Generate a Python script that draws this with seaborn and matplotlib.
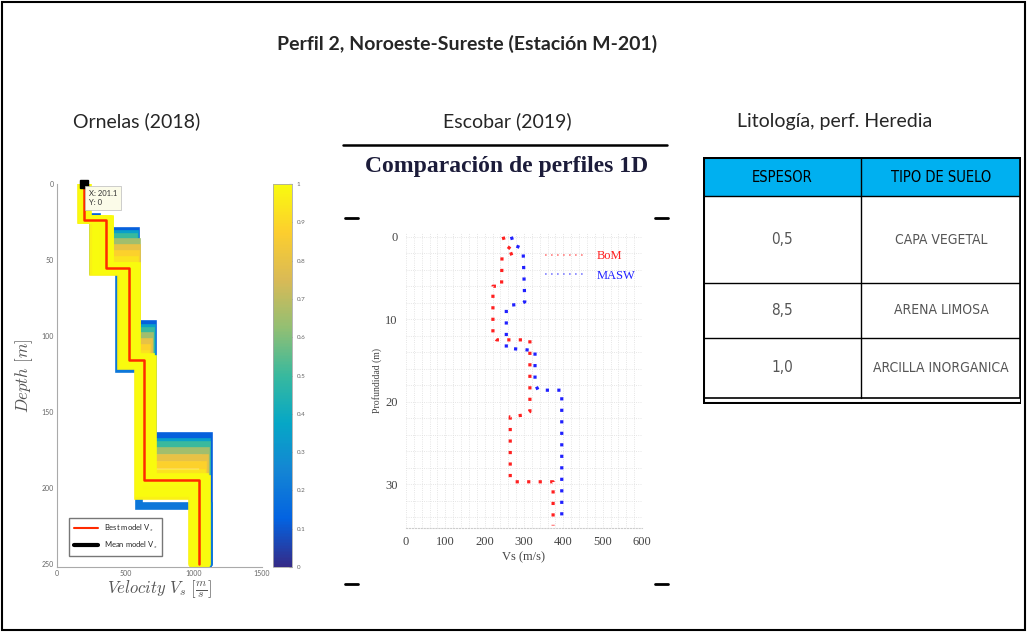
import numpy as np
import seaborn as sns
import matplotlib.pyplot as plt
from matplotlib.colors import LinearSegmentedColormap, Normalize
from matplotlib.lines import Line2D
from matplotlib.patches import Rectangle
from matplotlib import font_manager as fm
import matplotlib as mpl

# ---------------- data ----------------
# Ornelas (2018): layered Vs models (5 layers, 4 interfaces), colour = normalized fit
best_v = [195, 361, 524, 634, 1037]
best_b = [24, 55, 116, 195]
mean_v = [201, 361, 524, 634, 1037]
mean_b = [24, 55, 116, 195]
ens_fit = [0.12, 0.2, 0.35, 0.5, 0.65, 0.8, 0.88, 0.93, 0.97, 0.98, 0.99, 0.99, 1.0, 1.0, 1.0, 1.0]
ens_v = [
    [215, 295, 575, 700, 1115],
    [205, 262, 455, 600, 1110],
    [200, 285, 570, 695, 1100],
    [195, 300, 560, 690, 1095],
    [190, 320, 585, 680, 1090],
    [185, 340, 585, 670, 1080],
    [180, 360, 580, 660, 1070],
    [210, 380, 570, 650, 1060],
    [175, 265, 470, 595, 985],
    [185, 300, 495, 610, 1005],
    [205, 330, 510, 625, 1020],
    [215, 390, 550, 660, 1060],
    [225, 385, 585, 705, 1095],
    [200, 350, 540, 645, 1050],
    [180, 285, 480, 600, 995],
    [220, 370, 565, 690, 1080],
]
ens_b = [
    [22, 31, 92, 166],
    [23, 57, 122, 212],
    [23, 33, 95, 170],
    [24, 35, 97, 172],
    [24, 38, 100, 176],
    [24, 42, 104, 180],
    [24, 46, 108, 185],
    [24, 50, 112, 190],
    [24, 58, 120, 205],
    [24, 57, 118, 200],
    [24, 56, 117, 198],
    [24, 55, 116, 196],
    [23, 54, 115, 194],
    [24, 55, 116, 196],
    [24, 57, 119, 203],
    [23, 54, 114, 193],
]
max_depth = 250

# Escobar (2019): profile vertices (velocity m/s, depth m)
bom_vs = [247, 253, 277, 244, 243, 221, 221, 230, 315, 315, 302, 265, 265, 272, 374, 374]
bom_z = [0, 1.0, 1.9, 2.5, 6.0, 6.0, 12.1, 12.5, 12.5, 21.2, 21.6, 21.8, 29.3, 29.7, 29.7, 35.0]
masw_vs = [268, 274, 289, 298, 302, 289, 264, 255, 255, 328, 328, 336, 396, 396]
masw_z = [0, 1.0, 1.3, 2.0, 7.9, 8.2, 8.3, 8.8, 13.5, 13.8, 17.8, 18.6, 18.6, 34.7]

# Heredia lithology table
tab_header = ["ESPESOR", "TIPO DE SUELO"]
tab_thick = ["0,5", "8,5", "1,0"]
tab_soil = ["CAPA VEGETAL", "ARENA LIMOSA", "ARCILLA INORGANICA"]


def stairs(v, b, bottom):
    z = [0]
    vv = [v[0]]
    for i, d in enumerate(b):
        z += [d, d]
        vv += [v[i], v[i + 1]]
    z.append(bottom)
    vv.append(v[-1])
    return np.array(vv), np.array(z)


parula = LinearSegmentedColormap.from_list(
    "parula", ["#352a87", "#0363e1", "#1485d4", "#06a7c6", "#38b99e",
               "#92bf73", "#d9ba56", "#fcce2e", "#f9fb0e"])

sns.set_style("white")
plt.rcParams['font.family'] = ['Lato', 'DejaVu Sans']
plt.rcParams['mathtext.fontset'] = 'cm'

# condensed font for the table, if one is installed
cond = [f for f in fm.fontManager.ttflist
        if ('Narrow' in f.name or 'Condensed' in f.name or f.stretch in ('condensed', 'semi-condensed'))
        and f.style == 'normal' and f.weight in (400, 'normal', 'regular')]
if cond:
    tab_font = fm.FontProperties(fname=cond[0].fname)
    scale = 1.0
else:
    tab_font = fm.FontProperties(family='Liberation Sans')
    scale = 0.85

W, H = 1027, 632
fig = plt.figure(figsize=(W / 100, H / 100), dpi=100)


def box(x0, y0, x1, y1):
    return [x0 / W, 1 - y1 / H, (x1 - x0) / W, (y1 - y0) / H]


# frame and titles
fig.add_artist(Rectangle((0.002, 0.003), 0.996, 0.994, transform=fig.transFigure,
                         fill=False, lw=1.5, ec='black'))
fig.text(467 / W, 1 - 44 / H, "Perfil 2, Noroeste-Sureste (Estación M-201)",
         ha='center', va='center', fontsize=14, fontweight='bold')
fig.text(137 / W, 1 - 121 / H, "Ornelas (2018)", ha='center', va='center', fontsize=14)
fig.text(507 / W, 1 - 121 / H, "Escobar (2019)", ha='center', va='center', fontsize=14)
fig.text(835 / W, 1 - 121 / H, "Litología, perf. Heredia", ha='center', va='center', fontsize=14)

# ---------------- left panel ----------------
ax1 = fig.add_axes(box(57, 184, 262, 567))
norm = Normalize(0, 1)
order = np.argsort(ens_fit, kind='stable')
mv, mz = stairs(mean_v, mean_b, max_depth)
ax1.plot(mv, mz, color='black', lw=3)
for i in order:
    vv, zz = stairs(ens_v[i], ens_b[i], max_depth)
    sns.lineplot(x=vv, y=zz, sort=False, estimator=None, ax=ax1,
                 color=parula(norm(ens_fit[i])), lw=5.5, solid_joinstyle='miter')
bv, bz = stairs(best_v, best_b, max_depth)
sns.lineplot(x=bv, y=bz, sort=False, estimator=None, ax=ax1, color='#ff2a00', lw=1.8)
ax1.plot([201.1], [0], 's', color='black', ms=6, clip_on=False, zorder=5)
ax1.text(235, 4, "X: 201.1\nY: 0", fontsize=5.5, va='top', ha='left', color='#333333',
         linespacing=1.4,
         bbox=dict(boxstyle='square,pad=0.5', fc='#fbfbe8', ec='#bbbbbb', lw=0.5), zorder=6)
ax1.set_xlim(0, 1500)
ax1.set_ylim(252, 0)
ax1.set_xticks([0, 500, 1000, 1500])
ax1.set_yticks([0, 50, 100, 150, 200, 250])
for s in ['top', 'right']:
    ax1.spines[s].set_visible(False)
for s in ['left', 'bottom']:
    ax1.spines[s].set_color('#aaaaaa')
    ax1.spines[s].set_linewidth(0.8)
ax1.tick_params(labelsize=5, colors='#666666', length=2, direction='in', pad=2)
ax1.set_xlabel(r'$Velocity\ V_s\ [\frac{m}{s}]$', fontsize=12, color='#555555', labelpad=1)
ax1.set_ylabel(r'$Depth\ [m]$', fontsize=12, color='#555555', labelpad=5)
ax1.legend(handles=[Line2D([], [], color='#ff2a00', lw=1.5, label=r'Best model V$_s$'),
                    Line2D([], [], color='black', lw=3, label=r'Mean model V$_s$')],
           loc='lower left', fontsize=5.5, frameon=True, edgecolor='#555555',
           fancybox=False, handlelength=3.2, borderpad=0.6, labelspacing=0.8,
           bbox_to_anchor=(0.04, 0.02))

cax = fig.add_axes(box(273, 184, 292, 567))
cb = fig.colorbar(mpl.cm.ScalarMappable(norm=norm, cmap=parula), cax=cax)
cb.set_ticks(np.round(np.arange(0, 1.01, 0.1), 1))
cb.set_ticklabels(["0", "0.1", "0.2", "0.3", "0.4", "0.5", "0.6", "0.7", "0.8", "0.9", "1"])
cb.ax.tick_params(labelsize=4.5, colors='#666666', length=2, direction='in')
cb.outline.set_edgecolor('#aaaaaa')
cb.outline.set_linewidth(0.6)

# ---------------- middle panel ----------------
fig.add_artist(Line2D([343 / W, 667 / W], [1 - 145 / H] * 2, color='black', lw=1.8))
for yy in (218, 584):
    for x0 in (345, 655):
        fig.add_artist(Line2D([x0 / W, (x0 + 13) / W], [1 - yy / H] * 2, color='black', lw=2))
fig.text(507 / W, 1 - 166 / H, "Comparación de perfiles 1D", ha='center', va='center',
         fontsize=17, family='Liberation Serif', fontweight='bold', color='#1c1c3a')

ax2 = fig.add_axes(box(406, 233, 642, 528))
dot = (0, (1, 2.6))
sns.lineplot(x=bom_vs, y=bom_z, sort=False, estimator=None, ax=ax2, color='#ff2020',
             lw=2.3, linestyle=dot)
sns.lineplot(x=masw_vs, y=masw_z, sort=False, estimator=None, ax=ax2, color='#2020ff',
             lw=2.3, linestyle=dot)
ax2.set_xlim(0, 600)
ax2.set_ylim(35.3, -0.45)
ax2.set_xticks(range(0, 601, 100))
ax2.set_yticks([0, 10, 20, 30])
ax2.xaxis.set_minor_locator(mpl.ticker.MultipleLocator(20))
ax2.yaxis.set_minor_locator(mpl.ticker.MultipleLocator(2))
ax2.grid(which='both', ls=':', color='#dddddd', lw=0.6)
for s in ['top', 'right', 'left']:
    ax2.spines[s].set_visible(False)
ax2.spines['bottom'].set_linestyle(':')
ax2.spines['bottom'].set_color('#cccccc')
ax2.tick_params(which='both', length=0, labelsize=9, colors='#444444', pad=6)
for t in ax2.get_xticklabels() + ax2.get_yticklabels():
    t.set_family('Liberation Serif')
ax2.set_xlabel("Vs (m/s)", fontsize=9, family='Liberation Serif', color='#444444', labelpad=2)
ax2.set_ylabel("Profundidad (m)", fontsize=7, family='Liberation Serif', color='#444444',
               labelpad=2)
leg = ax2.legend(handles=[Line2D([], [], color='#ff8080', lw=1.2, linestyle=dot, label='BoM'),
                          Line2D([], [], color='#8080ff', lw=1.2, linestyle=dot, label='MASW')],
                 loc='upper right', frameon=False, prop={'family': 'Liberation Serif', 'size': 9},
                 handlelength=3.3, labelspacing=0.6, bbox_to_anchor=(1.02, 0.98))
leg.get_texts()[0].set_color('#ff2020')
leg.get_texts()[1].set_color('#2020ff')

# ---------------- table ----------------
ax3 = fig.add_axes(box(703, 157, 1021, 404))
ax3.set_xlim(0, 318)
ax3.set_ylim(247, 0)
ax3.axis('off')
rows = [1, 39, 126, 181, 241]
col = 158
ax3.add_patch(Rectangle((1, rows[0]), 316, rows[1] - rows[0], fc='#00b0f0', ec='none'))
for r in rows[1:-1]:
    ax3.plot([1, 317], [r, r], color='black', lw=1)
ax3.plot([col, col], [rows[0], rows[-1]], color='black', lw=1)
ax3.add_patch(Rectangle((1, rows[0]), 316, rows[-1] - rows[0], fill=False, ec='black', lw=1.2))
ax3.add_patch(Rectangle((0, 0), 318, 246, fill=False, ec='black', lw=2.2))
ax3.text(col / 2, (rows[0] + rows[1]) / 2, tab_header[0], ha='center', va='center',
         fontproperties=tab_font, fontsize=10.5 * scale, color='black')
ax3.text((col + 318) / 2, (rows[0] + rows[1]) / 2, tab_header[1], ha='center', va='center',
         fontproperties=tab_font, fontsize=10.5 * scale, color='black')
for i in range(3):
    yc = (rows[i + 1] + rows[i + 2]) / 2
    ax3.text(col / 2, yc, tab_thick[i], ha='center', va='center', fontproperties=tab_font,
             fontsize=11 * scale, color='#555555')
    ax3.text((col + 318) / 2, yc, tab_soil[i], ha='center', va='center', fontproperties=tab_font,
             fontsize=10 * scale, color='#555555')

fig.savefig("out.png", dpi=100)
